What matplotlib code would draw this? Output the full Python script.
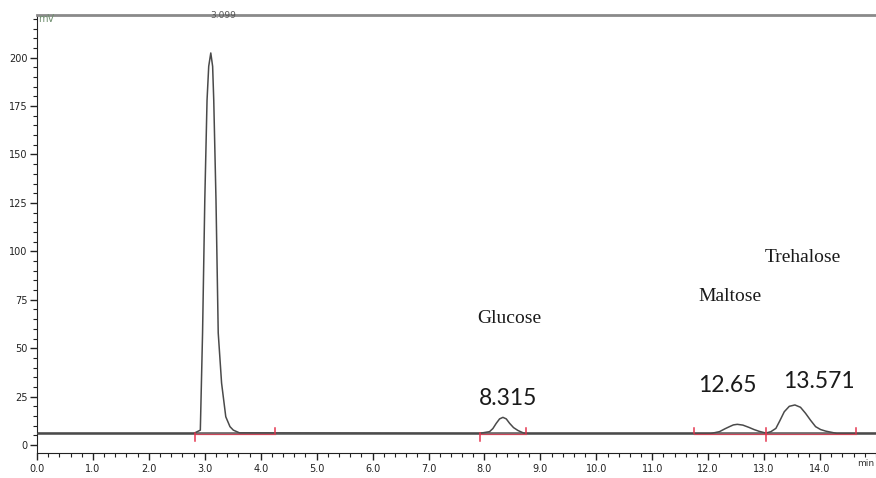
import numpy as np
import matplotlib.pyplot as plt
from matplotlib.ticker import MultipleLocator, FixedLocator

# chromatogram trace (min, mV)
time_min = [0.0, 2.80, 2.92, 2.96, 3.00, 3.04, 3.07, 3.107, 3.14, 3.16, 3.20, 3.24, 3.30, 3.375,
            3.45, 3.51, 3.62,
            7.90, 8.09, 8.15, 8.21, 8.27, 8.33, 8.39, 8.45, 8.52, 8.60, 8.70, 8.78,
            12.05, 12.20, 12.30, 12.38, 12.45, 12.52, 12.62, 12.73, 12.82, 12.91, 13.03,
            13.12, 13.21, 13.28, 13.36, 13.45, 13.55, 13.65, 13.74, 13.83, 13.92, 14.01, 14.10,
            14.30, 15.0]
signal_mv = [6.0, 6.0, 7.7, 57.9, 126.6, 178.0, 195.5, 202.4, 195.5, 178.0, 126.6, 57.9, 32.0, 14.6,
             9.5, 7.7, 6.3,
             6.0, 6.9, 8.5, 11.2, 13.5, 14.3, 13.5, 11.2, 9.0, 7.5, 6.2, 6.0,
             6.0, 6.9, 8.4, 9.5, 10.4, 10.7, 10.3, 9.1, 8.0, 7.1, 6.2,
             6.9, 8.6, 12.5, 17.2, 20.0, 20.7, 19.5, 16.4, 12.8, 9.5, 8.0, 7.2,
             6.0, 6.0]
baseline_mv = 6.0

# integration events (red marks)
integ_start = [2.82, 7.92, 11.75, 13.03]
integ_end = [4.25, 8.75, 13.03, 14.64]
start_down = [True, True, False, True]

# annotations
peak_names = ["Glucose", "Maltose", "Trehalose"]
name_x = [8.45, 12.38, 13.70]
name_y = [65.5, 76.5, 97.0]
rt_labels = ["8.315", "12.65", "13.571"]
rt_x = [8.42, 12.34, 13.98]
rt_y = [24.0, 30.5, 33.0]

fig = plt.figure(figsize=(8.76, 4.78), dpi=100)
ax = fig.add_axes([37 / 876, 25 / 478, 1 - 37 / 876, (453 - 15) / 478])

ax.axhline(baseline_mv, color="#6e6e6e", lw=2.0, zorder=1)
ax.plot(time_min, signal_mv, color="#4a4a4a", lw=1.1, zorder=3)

red = "#e5364f"
for s, e, dn in zip(integ_start, integ_end, start_down):
    ax.plot([s, e], [baseline_mv - 0.4, baseline_mv - 0.4], color=red, lw=0.9, alpha=0.75, zorder=4)
    if dn:
        ax.plot([s, s], [baseline_mv, baseline_mv - 4.0], color=red, lw=1.1, zorder=4)
    else:
        ax.plot([s, s], [baseline_mv, baseline_mv + 3.0], color=red, lw=1.1, zorder=4)
    ax.plot([e, e], [baseline_mv, baseline_mv + 3.0], color=red, lw=1.1, zorder=4)

for n, x, y in zip(peak_names, name_x, name_y):
    ax.text(x, y, n, ha="center", va="center", fontsize=14, family="Liberation Serif", color="#1a1a1a")
for t, x, y in zip(rt_labels, rt_x, rt_y):
    ax.text(x, y, t, ha="center", va="center", fontsize=16.5, family="Lato", color="#1a1a1a")

ax.text(3.099, 222, "3.099", ha="left", va="center", fontsize=6.5, color="#555555", zorder=5)
ax.text(0.02, 220, "mV", ha="left", va="center", fontsize=7, color="#6f8f6f", zorder=5)
ax.text(14.82, -9.5, "min", ha="center", va="center", fontsize=6.5, color="#333333", clip_on=False)

ax.set_xlim(0, 15.0)
ax.set_ylim(-4.1, 222)

ax.xaxis.set_major_locator(FixedLocator(np.arange(0, 15, 1.0)))
ax.xaxis.set_minor_locator(MultipleLocator(0.2))
ax.xaxis.set_major_formatter(plt.FuncFormatter(lambda v, p: f"{v:.1f}"))
ax.yaxis.set_major_locator(FixedLocator(np.arange(0, 201, 25)))
ax.yaxis.set_minor_locator(MultipleLocator(5))

ax.tick_params(axis="both", which="major", direction="out", length=5, width=1.0, labelsize=7,
               colors="#222222")
ax.tick_params(axis="both", which="minor", direction="out", length=3, width=0.8, colors="#222222")
ax.tick_params(axis="x", pad=3)
ax.tick_params(axis="y", pad=2)

ax.spines["right"].set_visible(False)
ax.spines["top"].set_color("#8a8a8a")
ax.spines["top"].set_linewidth(2.0)
ax.spines["left"].set_color("#222222")
ax.spines["bottom"].set_color("#222222")

fig.savefig("out.png", dpi=100)
